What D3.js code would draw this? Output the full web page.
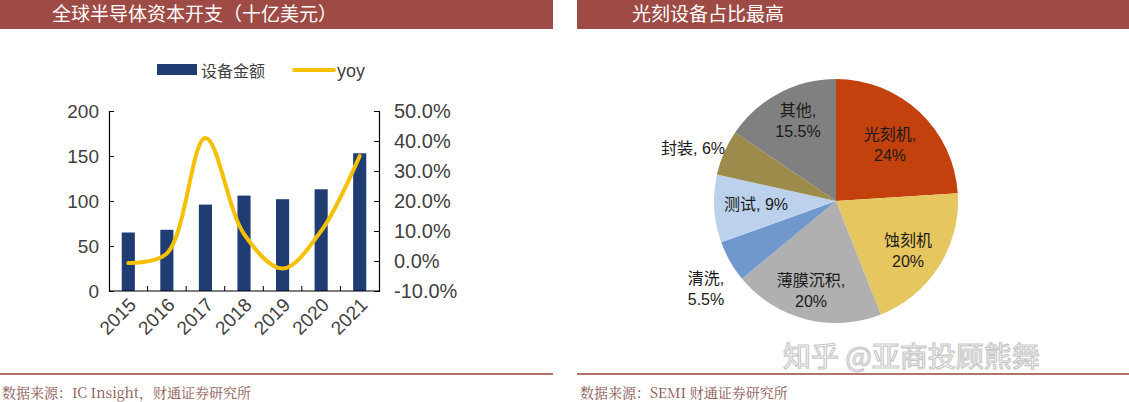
<!DOCTYPE html>
<html><head><meta charset="utf-8">
<script src="https://cdn.jsdelivr.net/npm/d3@7/dist/d3.min.js"></script>
<style>body{margin:0;background:#fff}svg{display:block}</style>
</head><body><svg id="c" width="1129" height="402"></svg>
<script>
const years = ["2015","2016","2017","2018","2019","2020","2021"];
const capex = [65, 68, 96, 106, 102, 113, 153];
const yoy = [-0.7, 2.5, 41, 9, -2.5, 10, 35];
const leftTicks = [0, 50, 100, 150, 200];
const rightTicks = [-10, 0, 10, 20, 30, 40, 50];
const pieLabels = ["光刻机", "蚀刻机", "薄膜沉积", "清洗", "测试", "封装", "其他"];
const pieValues = [24, 20, 20, 5.5, 9, 6, 15.5];
const pieText = [["光刻机,", "24%"], ["蚀刻机", "20%"], ["薄膜沉积,", "20%"], ["清洗,", "5.5%"], ["测试, 9%"], ["封装, 6%"], ["其他,", "15.5%"]];
const pieColors = ["#c2410c", "#e6c65e", "#b0b0b0", "#7098cc", "#bcd2ec", "#9c8b4b", "#808080"];

const svg = d3.select("#c");
const HDR = "#9e4a45", SANS = "Arial,'Liberation Sans','Noto Sans CJK SC',sans-serif";
const SERIF = "'Noto Serif CJK SC','Liberation Serif','Noto Sans CJK SC',serif";
svg.append("rect").attr("x",0).attr("y",0).attr("width",553).attr("height",29).attr("fill",HDR);
svg.append("rect").attr("x",577).attr("y",0).attr("width",552).attr("height",29).attr("fill",HDR);
svg.append("text").attr("x",52).attr("y",21).attr("fill","#fff").attr("font-size",19).attr("font-family","'Noto Sans CJK SC'").text("全球半导体资本开支（十亿美元）");
svg.append("text").attr("x",632).attr("y",21).attr("fill","#fff").attr("font-size",19).attr("font-family","'Noto Sans CJK SC'").text("光刻设备占比最高");
[[0,553,"数据来源：IC Insight，财通证券研究所",2],[577,1129,"数据来源：SEMI 财通证券研究所",580]].forEach(f=>{
  svg.append("line").attr("x1",f[0]).attr("x2",f[1]).attr("y1",374).attr("y2",374).attr("stroke","#a0413c").attr("stroke-width",1.5);
  svg.append("text").attr("x",f[3]).attr("y",398).attr("fill","#8a5550").attr("font-size",14).attr("font-family",SERIF).text(f[2]);
});

const x = d3.scaleBand().domain(years).range([109, 379]).paddingInner(0.66).paddingOuter(0.33);
const yL = d3.scaleLinear().domain([0,200]).range([291,111]);
const yR = d3.scaleLinear().domain([-10,50]).range([291,111]);
const g = svg.append("g");
g.selectAll("rect.bar").data(capex).join("rect").attr("class","bar")
  .attr("x",(d,i)=>x(years[i])).attr("width",x.bandwidth()).attr("y",d=>yL(d)).attr("height",d=>yL(0)-yL(d)).attr("fill","#1f3c73");
const line = d3.line().x((d,i)=>x(years[i])+x.bandwidth()/2).y(d=>yR(d)).curve(d3.curveCatmullRom.alpha(0.5));
g.append("path").attr("d",line(yoy)).attr("fill","none").attr("stroke","#f5c000").attr("stroke-width",4).attr("stroke-linecap","round");
const axL = g.append("g").attr("transform","translate(109,0)").call(d3.axisRight(yL).tickValues(leftTicks).tickSize(5).tickFormat(""));
const axR = g.append("g").attr("transform","translate(379,0)").call(d3.axisLeft(yR).tickValues(rightTicks).tickSize(5).tickFormat(""));
[axL,axR].forEach(a=>{a.select(".domain").attr("stroke","#000").attr("stroke-width",1.2);a.selectAll("line").attr("stroke","#000");});
g.selectAll("text.yl").data(leftTicks).join("text").attr("x",99).attr("y",d=>yL(d)+7).attr("text-anchor","end").attr("font-size",19).attr("font-family",SANS).attr("fill","#404040").text(d=>d);
g.selectAll("text.yr").data(rightTicks).join("text").attr("x",394).attr("y",d=>yR(d)+7).attr("font-size",20).attr("font-family",SANS).attr("fill","#404040").text(d=>d.toFixed(1)+"%");
g.append("line").attr("x1",109).attr("x2",379).attr("y1",291).attr("y2",291).attr("stroke","#000").attr("stroke-width",1.2);
g.selectAll("line.xt").data(d3.range(1,years.length)).join("line").attr("x1",d=>109+d*(270/7)).attr("x2",d=>109+d*(270/7)).attr("y1",291).attr("y2",286).attr("stroke","#000");
g.selectAll("text.xl").data(years).join("text").attr("text-anchor","end").attr("font-size",19).attr("font-family",SANS).attr("fill","#404040")
  .attr("transform",d=>`translate(${x(d)+x.bandwidth()/2+9},${306}) rotate(-45)`).text(d=>d);
svg.append("rect").attr("x",157).attr("y",64).attr("width",40).attr("height",11).attr("fill","#1f3c73");
svg.append("text").attr("x",201).attr("y",77).attr("font-size",16).attr("font-family","'Noto Sans CJK SC'").attr("fill","#404040").text("设备金额");
svg.append("line").attr("x1",294).attr("x2",334).attr("y1",70).attr("y2",70).attr("stroke","#f5c000").attr("stroke-width",4).attr("stroke-linecap","round");
svg.append("text").attr("x",337).attr("y",77).attr("font-size",18).attr("font-family",SANS).attr("fill","#404040").text("yoy");

const cx=836, cy=201, r=122;
const pie = d3.pie().sort(null)(pieValues);
const arc = d3.arc().innerRadius(0).outerRadius(r);
const pg = svg.append("g").attr("transform",`translate(${cx},${cy})`);
pg.selectAll("path").data(pie).join("path").attr("d",arc).attr("fill",(d,i)=>pieColors[i]);
const labelPos = [[890,140],[908,246],[811,286],[706,284],[756,210],[693,154],[798,116]];
labelPos.forEach((p,i)=>{
  const t = svg.append("text").attr("text-anchor","middle").attr("font-size",16).attr("font-family",SANS).attr("fill","#1a1a1a");
  pieText[i].forEach((s,j)=>t.append("tspan").attr("x",p[0]).attr("y",p[1]+j*21).text(s));
});
svg.append("text").attr("x",783).attr("y",367).attr("font-size",28).attr("font-family","'Noto Sans CJK SC'").attr("fill","#fff").attr("stroke","#c8c8c8").attr("stroke-width",1.2).text("知乎 @亚商投顾熊舞");
</script></body></html>
